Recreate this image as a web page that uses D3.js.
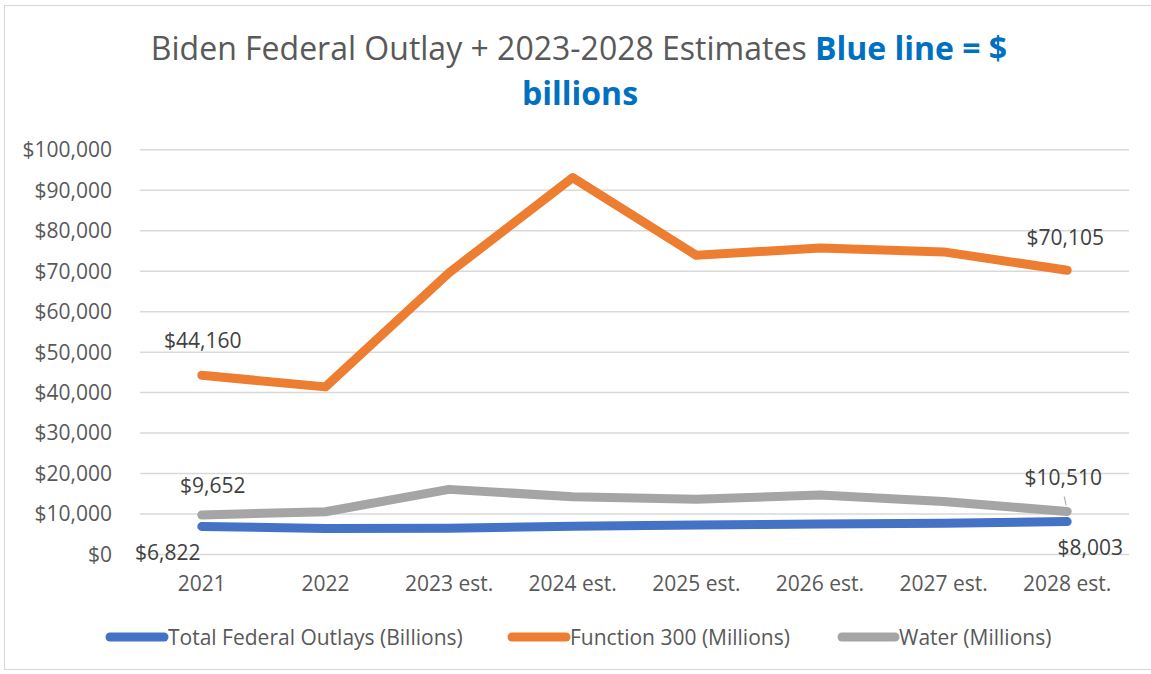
<!DOCTYPE html>
<html>
<head>
<meta charset="utf-8">
<script src="https://cdn.jsdelivr.net/npm/d3@7"></script>
<style>
  html, body { margin: 0; padding: 0; background: #fff; }
  svg { display: block; font-family: "Open Sans", Lato, sans-serif; }
</style>
</head>
<body>
<svg id="chart" width="1151" height="674"></svg>
<script>
// Fiscal years on the x axis
const years = ["2021", "2022", "2023 est.", "2024 est.", "2025 est.", "2026 est.", "2027 est.", "2028 est."];

// Total federal outlays ($ billions)
const totalOutlays = [6822, 6273, 6372, 6883, 7140, 7385, 7620, 8003];
// Function 300 – natural resources & environment ($ millions)
const function300 = [44160, 41300, 69500, 93000, 73800, 75600, 74650, 70105];
// Water ($ millions)
const water = [9652, 10450, 15970, 14150, 13500, 14570, 12950, 10510];

// Value axis ticks
const yTicks = [0, 10000, 20000, 30000, 40000, 50000, 60000, 70000, 80000, 90000, 100000];

const seriesNames = ["Total Federal Outlays (Billions)", "Function 300 (Millions)", "Water (Millions)"];
const seriesColors = ["#4472C4", "#ED7D31", "#A5A5A5"];

const svg = d3.select("#chart");
const W = 1151, H = 674;
const FS = 21;

// outer chart frame
svg.append("rect")
  .attr("x", 4.5).attr("y", 5.5)
  .attr("width", W + 10).attr("height", 664)
  .attr("fill", "#fff").attr("stroke", "#D9D9D9").attr("stroke-width", 1.2);

const plot = { left: 140, right: 1129, top: 149.3, bottom: 554 };

const x = d3.scaleBand().domain(years).range([plot.left, plot.right]);
const y = d3.scaleLinear().domain([0, 100000]).range([plot.bottom, plot.top]);
const cx = d => x(d) + x.bandwidth() / 2;

// title
const title = svg.append("text")
  .attr("x", 579).attr("y", 60)
  .attr("text-anchor", "middle")
  .attr("font-size", 32);
title.append("tspan").attr("fill", "#595959")
  .text("Biden Federal Outlay + 2023-2028 Estimates ");
title.append("tspan").attr("fill", "#0070C0").attr("font-weight", "bold")
  .text("Blue line = $");
svg.append("text")
  .attr("x", 580).attr("y", 105)
  .attr("text-anchor", "middle")
  .attr("font-size", 32).attr("font-weight", "bold")
  .attr("fill", "#0070C0")
  .text("billions");

// gridlines and value labels
const yAxis = d3.axisLeft(y).tickValues(yTicks)
  .tickSize(-(plot.right - plot.left))
  .tickPadding(28)
  .tickFormat(d => "$" + d3.format(",")(d));
const gy = svg.append("g")
  .attr("transform", `translate(${plot.left},0)`)
  .call(yAxis);
gy.select(".domain").remove();
gy.selectAll(".tick line").attr("stroke", "#D9D9D9").attr("stroke-width", 1.5);
gy.selectAll(".tick text")
  .attr("fill", "#595959").attr("font-size", FS)
  .attr("font-family", "'Open Sans', sans-serif")
  .attr("dy", "0.35em");

// category axis labels
const xAxis = d3.axisBottom(x).tickSize(0).tickPadding(22);
const gx = svg.append("g")
  .attr("transform", `translate(0,${plot.bottom})`)
  .call(xAxis);
gx.select(".domain").remove();
gx.selectAll(".tick text")
  .attr("fill", "#595959").attr("font-size", FS)
  .attr("font-family", "'Open Sans', sans-serif");

// lines
const allSeries = [totalOutlays, function300, water];
const line = d3.line().x((d, i) => cx(years[i])).y(d => y(d));
// grey first, then orange, blue on top
[2, 1, 0].forEach(k => {
  svg.append("path")
    .datum(allSeries[k])
    .attr("d", line)
    .attr("fill", "none")
    .attr("stroke", seriesColors[k])
    .attr("stroke-width", 9)
    .attr("stroke-linecap", "round")
    .attr("stroke-linejoin", "round");
});

// data labels at the first and last points
const labels = [
  { s: 1, i: 0, dx: 1, dy: -27 },
  { s: 1, i: 7, dx: -2, dy: -25 },
  { s: 2, i: 0, dx: 11, dy: -22 },
  { s: 2, i: 7, dx: -4, dy: -26, leader: true },
  { s: 0, i: 0, dx: -34, dy: 34 },
  { s: 0, i: 7, dx: 23, dy: 33 }
];
labels.forEach(l => {
  const v = allSeries[l.s][l.i];
  const px = cx(years[l.i]), py = y(v);
  if (l.leader) {
    svg.append("line")
      .attr("x1", px - 3).attr("y1", py - 15)
      .attr("x2", px - 1).attr("y2", py - 6)
      .attr("stroke", "#A6A6A6").attr("stroke-width", 1);
  }
  svg.append("text")
    .attr("x", px + l.dx).attr("y", py + l.dy)
    .attr("text-anchor", "middle")
    .attr("font-size", FS)
    .attr("fill", "#404040")
    .text("$" + d3.format(",")(v));
});

// legend
const legendItems = [
  { k: 0, x0: 110, x1: 164, tx: 168 },
  { k: 1, x0: 512, x1: 566, tx: 570 },
  { k: 2, x0: 842, x1: 895, tx: 899 }
];
const ly = 637;
legendItems.forEach(it => {
  svg.append("line")
    .attr("x1", it.x0).attr("x2", it.x1)
    .attr("y1", ly).attr("y2", ly)
    .attr("stroke", seriesColors[it.k])
    .attr("stroke-width", 9)
    .attr("stroke-linecap", "round");
  svg.append("text")
    .attr("x", it.tx).attr("y", ly + 7.5)
    .attr("font-size", FS)
    .attr("fill", "#595959")
    .text(seriesNames[it.k]);
});
</script>
</body>
</html>
